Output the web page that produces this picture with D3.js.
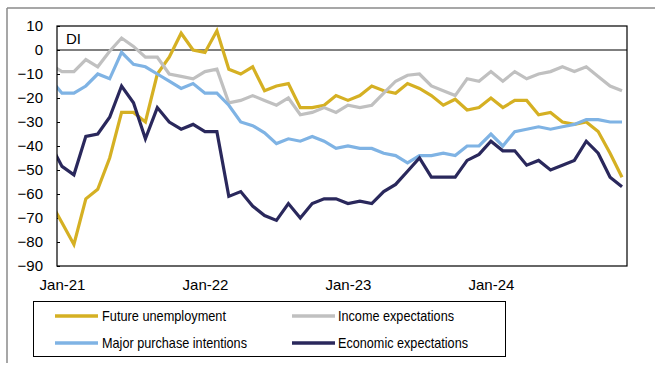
<!DOCTYPE html>
<html>
<head>
<meta charset="utf-8">
<script src="https://cdn.jsdelivr.net/npm/d3@7/dist/d3.min.js"></script>
<style>
  html, body { margin: 0; padding: 0; background: #fff; }
  svg { display: block; font-family: "Liberation Sans", Arial, sans-serif; }
</style>
</head>
<body>
<svg id="chart" width="655" height="365"></svg>
<script>
// Monthly consumer survey balances (DI), Dec-20 through Dec-24
const months = [
  "Dec-20",
  "Jan-21","Feb-21","Mar-21","Apr-21","May-21","Jun-21","Jul-21","Aug-21","Sep-21","Oct-21","Nov-21","Dec-21",
  "Jan-22","Feb-22","Mar-22","Apr-22","May-22","Jun-22","Jul-22","Aug-22","Sep-22","Oct-22","Nov-22","Dec-22",
  "Jan-23","Feb-23","Mar-23","Apr-23","May-23","Jun-23","Jul-23","Aug-23","Sep-23","Oct-23","Nov-23","Dec-23",
  "Jan-24","Feb-24","Mar-24","Apr-24","May-24","Jun-24","Jul-24","Aug-24","Sep-24","Oct-24","Nov-24","Dec-24"
];

const futureUnemployment = [
  -63,
  -72, -81, -62, -58, -45, -26, -26, -30, -10, -3, 7, 0,
  -1, 8, -8, -10, -7, -17, -15, -14, -24, -24, -23, -19,
  -21, -19, -15, -17, -18, -14, -16, -19, -23, -20.5, -25, -24,
  -20, -24, -21, -21, -27, -26, -30, -31, -30, -34, -43, -53
];

const incomeExpectations = [
  -6,
  -9, -9, -4, -7, -0.5, 5, 1.5, -3, -3, -10, -11, -12,
  -9, -8, -22, -21, -19, -21, -23, -20, -27, -26, -24, -26,
  -23, -24, -23, -18, -13, -10.5, -10, -15, -17, -19, -12, -13,
  -9, -13, -9, -12, -10, -9, -7, -9, -7, -11, -15, -17
];

const majorPurchase = [
  -12,
  -18, -18, -15, -10, -12, -1, -6, -7, -10, -13, -16, -14,
  -18, -18, -23, -30, -31.5, -34.5, -39, -37, -38, -36, -38, -41,
  -40, -41, -41, -43, -44, -47, -44, -44, -43, -44, -40, -40,
  -35, -40, -34, -33, -32, -33, -32, -31, -29, -29, -30, -30
];

const economicExpectations = [
  -39,
  -48.5, -52, -36, -35, -28, -15, -22, -37, -24, -30, -33, -31,
  -34, -34, -61, -59, -65, -69, -71, -64, -70, -64, -62, -62,
  -64, -63, -64, -59, -56, -50.5, -45, -53, -53, -53, -46, -43.5,
  -38, -42, -42, -48, -46, -50, -48, -46, -38, -43, -53, -57
];

const xTickLabels = ["Jan-21", "Jan-22", "Jan-23", "Jan-24"];
const yTicks = [10, 0, -10, -20, -30, -40, -50, -60, -70, -80, -90];

const seriesNames = ["Future unemployment", "Income expectations", "Major purchase intentions", "Economic expectations"];
const seriesColors = ["#D5B023", "#C0C0C0", "#7FB3E4", "#2A285C"];
const seriesValues = [futureUnemployment, incomeExpectations, majorPurchase, economicExpectations];

// ---- layout ----
const svg = d3.select("#chart");
const plot = { left: 57, right: 627, top: 26, bottom: 266 };
const fontFamily = "Liberation Sans, Arial, sans-serif";

// month index: Jan-21 sits at position 0, Dec-20 at -1
const x = d3.scaleLinear().domain([0, 47]).range([62, 622]);
const y = d3.scaleLinear().domain([-90, 10]).range([plot.bottom, plot.top]);
const idx = m => months.indexOf(m) - 1;

// outer panel border (top and left)
svg.append("line").attr("x1", 7).attr("x2", 655).attr("y1", 8).attr("y2", 8)
  .attr("stroke", "#8a8a8a").attr("stroke-width", 1.5);
svg.append("line").attr("x1", 7).attr("x2", 7).attr("y1", 8).attr("y2", 363)
  .attr("stroke", "#8a8a8a").attr("stroke-width", 1.5);

// clip for the plotting area
svg.append("defs").append("clipPath").attr("id", "plotClip")
  .append("rect")
  .attr("x", plot.left).attr("y", plot.top)
  .attr("width", plot.right - plot.left).attr("height", plot.bottom - plot.top);

// y axis with inward ticks
const yAxis = d3.axisLeft(y).tickValues(yTicks).tickSize(-3).tickPadding(14).tickFormat(d3.format("d"));
const yG = svg.append("g").attr("transform", `translate(${plot.left},0)`).call(yAxis);
yG.select(".domain").remove();
yG.selectAll(".tick line").attr("stroke", "#000");
yG.selectAll(".tick text").attr("font-size", 15).attr("fill", "#000")
  .attr("font-family", fontFamily);

// x axis labels
const xAxis = d3.axisBottom(x)
  .tickValues(xTickLabels.map(idx))
  .tickSize(0).tickPadding(13)
  .tickFormat(i => months[i + 1]);
const xG = svg.append("g").attr("transform", `translate(0,${plot.bottom})`).call(xAxis);
xG.select(".domain").remove();
xG.selectAll(".tick text").attr("font-size", 15).attr("fill", "#000")
  .attr("font-family", fontFamily);

// zero line
svg.append("line")
  .attr("x1", plot.left).attr("x2", plot.right)
  .attr("y1", y(0)).attr("y2", y(0))
  .attr("stroke", "#000").attr("stroke-width", 1.2);

// series lines
const line = d3.line()
  .x((d, i) => x(i - 1))
  .y(d => y(d));

const linesG = svg.append("g").attr("clip-path", "url(#plotClip)");
seriesValues.forEach((vals, k) => {
  linesG.append("path")
    .datum(vals)
    .attr("d", line)
    .attr("fill", "none")
    .attr("stroke", seriesColors[k])
    .attr("stroke-width", 3.2)
    .attr("stroke-linejoin", "miter")
    .attr("stroke-miterlimit", 3);
});

// plot frame
svg.append("rect")
  .attr("x", plot.left).attr("y", plot.top)
  .attr("width", plot.right - plot.left).attr("height", plot.bottom - plot.top)
  .attr("fill", "none").attr("stroke", "#000").attr("stroke-width", 1.2);

// unit label
svg.append("text").attr("x", 66).attr("y", 44)
  .attr("font-size", 15).attr("fill", "#000").text("DI");

// legend
const legend = svg.append("g");
legend.append("rect")
  .attr("x", 33.5).attr("y", 301.5).attr("width", 472).attr("height", 55)
  .attr("fill", "#fff").attr("stroke", "#000").attr("stroke-width", 1);

const legendPos = [
  { lx: 55, tx: 102, y: 316, w: 124 },
  { lx: 292, tx: 338, y: 316, w: 116 },
  { lx: 55, tx: 102, y: 343, w: 145 },
  { lx: 292, tx: 338, y: 343, w: 130 }
];
seriesNames.forEach((name, k) => {
  const p = legendPos[k];
  legend.append("line")
    .attr("x1", p.lx).attr("x2", p.lx + 43)
    .attr("y1", p.y).attr("y2", p.y)
    .attr("stroke", seriesColors[k]).attr("stroke-width", 3.5);
  legend.append("text")
    .attr("x", p.tx).attr("y", p.y + 5)
    .attr("font-size", 14.5).attr("fill", "#000")
    .attr("textLength", p.w).attr("lengthAdjust", "spacingAndGlyphs")
    .text(name);
});
</script>
</body>
</html>
